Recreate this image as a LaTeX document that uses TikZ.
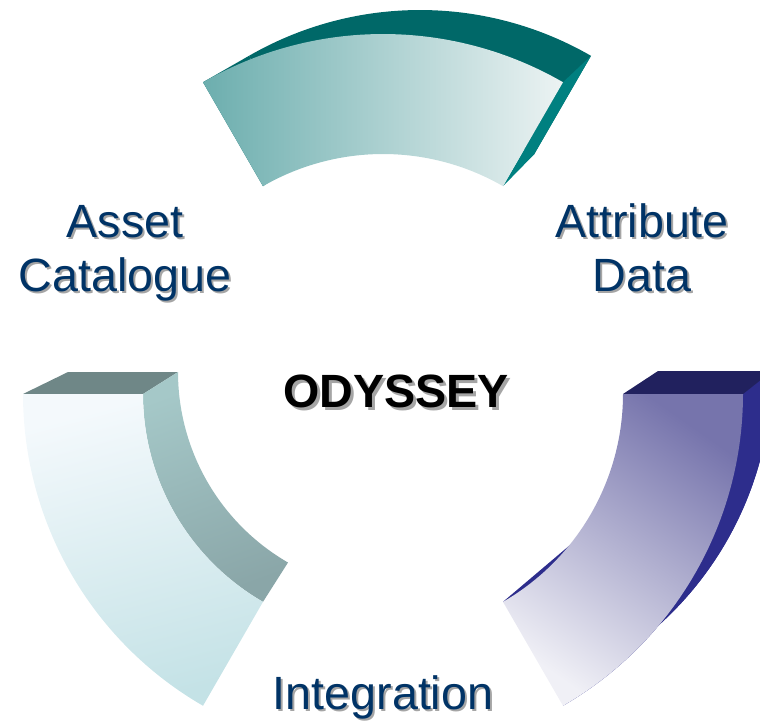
\documentclass[tikz,border=0pt]{standalone}
\usepackage{fontspec}
\setmainfont{Liberation Sans}
\definecolor{labelblue}{RGB}{0,51,102}
\definecolor{shadowgray}{RGB}{165,165,165}
\definecolor{tealBack}{RGB}{0,104,104}
\definecolor{tealSide}{RGB}{0,128,128}
\definecolor{tealL}{RGB}{108,174,174}
\definecolor{tealR}{RGB}{236,243,243}
\definecolor{greyTop}{RGB}{111,135,135}
\definecolor{greySideT}{RGB}{165,200,200}
\definecolor{greySideB}{RGB}{138,166,168}
\definecolor{paleT}{RGB}{244,249,252}
\definecolor{paleB}{RGB}{196,226,230}
\definecolor{navyTop}{RGB}{33,33,94}
\definecolor{navySide}{RGB}{45,45,140}
\definecolor{lavT}{RGB}{118,116,172}
\definecolor{lavB}{RGB}{240,240,246}
\begin{document}
\begin{tikzpicture}[x=0.75pt,y=-0.75pt,
  lbl/.style={font=\fontsize{35}{40}\selectfont,text=labelblue,anchor=base,inner sep=0pt},
  lblshadow/.style={lbl,text=shadowgray},
  title/.style={font=\fontsize{35}{40}\selectfont\bfseries,text=black,anchor=base,inner sep=0pt},
  titleshadow/.style={title,text=shadowgray}]
\useasboundingbox (0,0) rectangle (760,722);
\clip (0,0) rectangle (760,722);

% ---------- top segment (teal) ----------
\fill[tealBack] plot[domain=240:300,samples=60] ({420+342*cos(\x)},{352+342*sin(\x)})
  -- plot[domain=300:240,samples=60] ({420+228*cos(\x)},{352+228*sin(\x)}) -- cycle;
\fill[tealBack] (203,82.2) -- (249,55.8) -- (306,154.5) -- (263,186.2) -- cycle;
\fill[tealSide] (563,82.2) -- (591,55.8) -- (534,154.5) -- (503,186.2) -- cycle;
\shade[left color=tealL,right color=tealR]
  plot[domain=240:300,samples=60] ({383+360*cos(\x)},{394+360*sin(\x)})
  -- plot[domain=300:240,samples=60] ({383+240*cos(\x)},{394+240*sin(\x)}) -- cycle;

% ---------- left segment (pale / grey) ----------
\fill[greyTop] (23,394) -- (143,394) -- (178,372) -- (68,372) -- cycle;
\shade[top color=greySideT,bottom color=greySideB,shading angle=20]
  plot[domain=180:120,samples=60] ({383+240*cos(\x)},{394+240*sin(\x)})
  -- plot[domain=120:180,samples=60] ({398+220*cos(\x)},{372+220*sin(\x)}) -- cycle;
\shade[top color=paleT,bottom color=paleB,shading angle=15]
  plot[domain=120:180,samples=60] ({383+360*cos(\x)},{394+360*sin(\x)})
  -- plot[domain=180:120,samples=60] ({383+240*cos(\x)},{394+240*sin(\x)}) -- cycle;

% ---------- right segment (navy / lavender) ----------
\fill[navySide] plot[domain=0:60,samples=60] ({430+342*cos(\x)},{371+342*sin(\x)})
  -- plot[domain=60:0,samples=60] ({430+228*cos(\x)},{371+228*sin(\x)}) -- cycle;
\fill[navySide] plot[domain=0:60,samples=60] ({383+360*cos(\x)},{394+360*sin(\x)})
  -- plot[domain=60:0,samples=60] ({430+342*cos(\x)},{371+342*sin(\x)}) -- cycle;
\fill[navyTop] (623,394) -- (743,394) -- (772,371) -- (658,371) -- cycle;
\fill[navySide] (503,601.8) -- (570,545) -- (540,590) -- cycle;
\shade[top color=lavT,bottom color=lavB,shading angle=-35]
  plot[domain=0:60,samples=60] ({383+360*cos(\x)},{394+360*sin(\x)})
  -- plot[domain=60:0,samples=60] ({383+240*cos(\x)},{394+240*sin(\x)}) -- cycle;

% ---------- labels ----------
\node[lblshadow] (assetS) at (127,239) {Asset};
\node[lbl] (asset) at (125,237) {Asset};
\node[lblshadow] (catalogueS) at (127,293) {Catalogue};
\node[lbl] (catalogue) at (125,291) {Catalogue};
\node[lblshadow] (attributeS) at (644,239) {Attribute};
\node[lbl] (attribute) at (642,237) {Attribute};
\node[lblshadow] (dataS) at (644,293) {Data};
\node[lbl] (data) at (642,291) {Data};
\node[titleshadow] (odysseyS) at (399,410) {ODYSSEY};
\node[title] (odyssey) at (396,407) {ODYSSEY};
\node[lblshadow] (integrationS) at (385,711) {Integration};
\node[lbl] (integration) at (383,709) {Integration};
\end{tikzpicture}
\end{document}
